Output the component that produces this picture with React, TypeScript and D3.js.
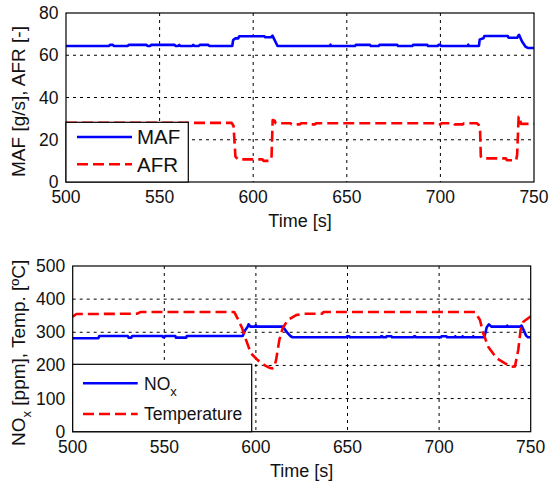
import React from 'react';
import * as d3 from 'd3';

// tick labels
const timeTicks = [500, 550, 600, 650, 700, 750];
const airTicks = [0, 20, 40, 60, 80];
const emisTicks = [0, 100, 200, 300, 400, 500];

// top panel: mass air flow [g/s]
const mafTime = [500, 523, 523.5, 525, 525.5, 533, 533.5, 543, 543.5, 545, 545.5, 558, 558.5, 560, 560.5, 561, 567.5, 568, 568.5, 571, 571.5, 576, 576.5, 588.8, 589.3, 590.5, 592, 592.5, 606, 606.5, 609.5, 610.3, 611, 613, 641, 641.3, 641.6, 654.4, 654.8, 662.4, 662.8, 667, 667.4, 677, 677.4, 685, 685.4, 693, 693.4, 698.7, 699, 700, 700.4, 714.6, 714.9, 715.2, 720.6, 721, 723, 723.5, 736, 736.4, 741, 742, 743.6, 745.5, 747, 750];
const mafValue = [64.4, 64.4, 64.9, 64.9, 64.4, 64.4, 64.9, 64.9, 64.4, 64.4, 64.9, 64.9, 64.4, 64.4, 64.9, 64.4, 64.4, 64.9, 64.4, 64.4, 64.9, 64.9, 64.4, 64.4, 67.2, 68, 68, 69, 69, 68.5, 68.5, 69.3, 68, 64.4, 64.4, 65, 64.4, 64.4, 64.9, 64.9, 64.4, 64.4, 64.9, 64.9, 64.4, 64.4, 64.9, 64.9, 64.4, 64.4, 64.9, 64.9, 64.4, 64.4, 65, 64.4, 64.4, 67.5, 68, 69.1, 69.1, 68.3, 68.3, 69.7, 66.5, 64, 63.4, 63.4];

// top panel: air-fuel ratio [-]
const afrTime = [500, 588.5, 589.5, 590.5, 592, 605, 605.5, 609, 609.8, 610.4, 611.5, 612, 620, 620.5, 625, 625.5, 630, 630.5, 633, 633.5, 698, 698.5, 700, 700.5, 707, 707.5, 712, 712.5, 719.5, 720.5, 721.2, 721.6, 722.5, 735, 735.5, 740.5, 741, 741.8, 742.5, 743, 750];
const afrValue = [28, 28, 26.5, 12, 10.7, 10.7, 10, 10, 12, 29.3, 29, 27.8, 27.8, 27.3, 27.3, 27.8, 27.8, 27.3, 27.3, 27.8, 27.8, 27.3, 27.3, 27.8, 27.8, 27.3, 27.3, 27.8, 27.8, 27, 24, 12, 11.2, 11.2, 10.3, 10.3, 13, 30.9, 30.9, 27.5, 27.5];

// bottom panel: NOx [ppm]
const noxTime = [500, 514, 514.5, 530, 530.5, 532, 532.5, 549, 549.3, 550, 550.3, 556, 556.3, 562, 562.3, 592.8, 594, 595.5, 596, 597, 599.5, 600, 600.5, 614.6, 617, 619, 620, 649.5, 649.8, 651, 651.3, 668, 668.3, 669, 669.3, 671, 671.3, 674, 674.3, 686, 686.3, 687, 687.3, 701, 701.3, 704, 704.3, 708.5, 708.8, 709.2, 712.5, 712.8, 713.2, 718.3, 718.6, 719, 724.7, 726, 727.2, 728.5, 736.8, 737.2, 737.6, 744.2, 745, 747.5, 748.5, 750];
const noxValue = [282, 282, 289, 289, 284, 284, 289, 289, 285, 285, 289, 289, 284, 284, 289, 289, 305, 317, 324, 317, 317, 321, 317, 317, 300, 288, 285, 285, 288, 288, 285, 285, 288, 288, 285, 285, 288, 288, 285, 285, 288, 288, 285, 285, 288, 288, 285, 285, 288, 285, 285, 288, 285, 285, 288, 285, 285, 315, 324, 317, 317, 320, 317, 317, 320, 290, 285, 285];

// bottom panel: exhaust temperature [ºC]
const tempTime = [500, 502, 535, 537, 588.2, 590, 592.5, 594.6, 597.3, 601, 604.6, 607, 609, 610, 611, 612.8, 614.6, 617.4, 622, 626.4, 636, 637, 719.6, 722.3, 724.1, 726.8, 731.4, 736, 739.6, 741.4, 743.2, 744.5, 746, 749.7, 750];
const tempValue = [347, 355, 356, 361, 361, 342, 312, 277, 236.5, 216, 201, 194, 191, 195, 216, 277, 312, 337, 352, 356, 356, 361, 361, 337, 297, 256.5, 221.5, 206, 196, 197, 246.5, 307, 332, 347, 348];

const FONT = 'Liberation Sans, Arial, sans-serif';
const BLUE = '#0000ff';
const RED = '#ff0000';

type Frame = { left: number; right: number; top: number; bottom: number };
type Series = { time: number[]; value: number[]; color: string; dashed: boolean; label: React.ReactNode };

const Panel = ({ frame, yDomain, yTicks, series, legend, yLabel, labelX }: {
  frame: Frame; yDomain: [number, number]; yTicks: number[]; series: Series[];
  legend: { right: number; top: number; lineY: number[]; x1: number; x2: number; textX: number; size: number };
  yLabel: React.ReactNode; labelX: number;
}) => {
  const x = d3.scaleLinear().domain([500, 750]).range([frame.left, frame.right]);
  const y = d3.scaleLinear().domain(yDomain).range([frame.bottom, frame.top]);
  const line = d3.line<[number, number]>().x(d => x(d[0])).y(d => y(d[1]));
  const midY = (frame.top + frame.bottom) / 2;

  return (
    <g>
      {/* grid */}
      {timeTicks.slice(1, -1).map(t => (
        <line key={'gx' + t} x1={x(t)} x2={x(t)} y1={frame.top} y2={frame.bottom}
          stroke="#000" strokeWidth={1} strokeDasharray="3,4" />
      ))}
      {yTicks.slice(1, -1).map(v => (
        <line key={'gy' + v} x1={frame.left} x2={frame.right} y1={y(v)} y2={y(v)}
          stroke="#000" strokeWidth={1} strokeDasharray="3,4" />
      ))}

      {/* data */}
      {series.map((s, i) => (
        <path key={i} d={line(s.time.map((t, j) => [t, s.value[j]]) as [number, number][]) || ''}
          fill="none" stroke={s.color} strokeWidth={2.6}
          strokeDasharray={s.dashed ? '11,5' : undefined} strokeLinejoin="round" />
      ))}

      {/* frame */}
      <rect x={frame.left} y={frame.top} width={frame.right - frame.left} height={frame.bottom - frame.top}
        fill="none" stroke="#000" strokeWidth={1.2} />

      {/* ticks */}
      {timeTicks.map(t => (
        <text key={'tx' + t} x={x(t)} y={frame.bottom + 21} fontSize={17.5} textAnchor="middle" fontFamily={FONT} fill="#111">{t}</text>
      ))}
      {yTicks.map(v => (
        <text key={'ty' + v} x={frame.left - 7.5} y={y(v) + 6} fontSize={17.5} textAnchor="end" fontFamily={FONT} fill="#111">{v}</text>
      ))}

      {/* axis labels */}
      <text x={(frame.left + frame.right) / 2} y={frame.bottom + 45} fontSize={18} textAnchor="middle" fontFamily={FONT} fill="#111">Time [s]</text>
      <text transform={`translate(${labelX},${midY + 4}) rotate(-90)`} fontSize={19} textAnchor="middle" fontFamily={FONT} fill="#111">{yLabel}</text>

      {/* legend */}
      <rect x={frame.left} y={legend.top} width={legend.right - frame.left} height={frame.bottom - legend.top}
        fill="#fff" stroke="#000" strokeWidth={1.2} />
      {series.map((s, i) => (
        <g key={'lg' + i}>
          <line x1={legend.x1} x2={legend.x2} y1={legend.lineY[i]} y2={legend.lineY[i]} stroke={s.color}
            strokeWidth={2.6} strokeDasharray={s.dashed ? '11,5' : undefined} />
          <text x={legend.textX} y={legend.lineY[i] + legend.size * 0.36} fontSize={legend.size} fontFamily={FONT} fill="#111">{s.label}</text>
        </g>
      ))}
    </g>
  );
};

export default function App() {
  const topFrame = { left: 66, right: 534, top: 13, bottom: 182 };
  const botFrame = { left: 72.7, right: 530.7, top: 266, bottom: 431.7 };

  return (
    <svg width={550} height={484} style={{ position: 'absolute', left: 0, top: 0, background: '#fff' }}>
      <rect width={550} height={484} fill="#fff" />
      <Panel frame={topFrame} yDomain={[0, 80]} yTicks={airTicks}
        series={[
          { time: mafTime, value: mafValue, color: BLUE, dashed: false, label: 'MAF' },
          { time: afrTime, value: afrValue, color: RED, dashed: true, label: 'AFR' },
        ]}
        legend={{ right: 188.3, top: 122.3, lineY: [137, 164.3], x1: 77, x2: 132, textX: 137, size: 20.5 }}
        yLabel="MAF [g/s], AFR [-]" labelX={25} />
      <Panel frame={botFrame} yDomain={[0, 500]} yTicks={emisTicks}
        series={[
          { time: noxTime, value: noxValue, color: BLUE, dashed: false,
            label: <><tspan>NO</tspan><tspan fontSize={13} dy={6}>x</tspan></> },
          { time: tempTime, value: tempValue, color: RED, dashed: true, label: 'Temperature' },
        ]}
        legend={{ right: 251.7, top: 364.3, lineY: [383.3, 414], x1: 83, x2: 137.7, textX: 144, size: 17.5 }}
        yLabel={<><tspan>NO</tspan><tspan fontSize={13} dy={6}>x</tspan><tspan dy={-6}> [ppm], Temp. [ºC]</tspan></>}
        labelX={25} />
    </svg>
  );
}
